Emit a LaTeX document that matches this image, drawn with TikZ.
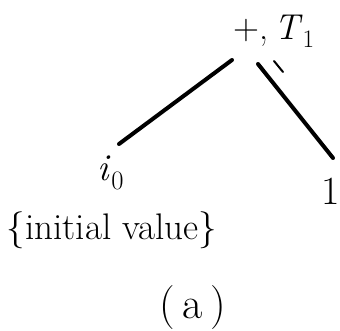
\documentclass[tikz,border=0pt]{standalone}
\usepackage{amsmath}
\usetikzlibrary{positioning, calc}

\begin{document}
\begin{tikzpicture}[
        x=1pt, y=-1pt,
        font=\fontsize{32}{38}\selectfont,
        treenode/.style={
            inner sep=0pt,
            align=center
        },
        notetext/.style={
            treenode,
            font=\fontsize{37}{44}\selectfont
        },
        edge/.style={
            line width=4pt,
            line cap=round
        },
        tickmark/.style={
            line width=2pt,
            line cap=round
        }
    ]

    \useasboundingbox (0,0) rectangle (340,331);

    \node[treenode, font=\fontsize{36}{42}\selectfont] (root) at (274,31) {+,\,\textit{T}\textsubscript{1}};
    \node[treenode, anchor=north, font=\fontsize{38}{44}\selectfont] (izero) at (111,156) {\textit{i}\textsubscript{0}};
    \node[treenode, anchor=north, font=\fontsize{40}{46}\selectfont] (one) at (331,178) {1};
    \node[notetext] (init) at (112,230) {\{initial value\}};
    \node[treenode, font=\fontsize{44}{50}\selectfont] (cap) at (193,308) {(\,a\,)};

    \draw[edge] ([shift={(-42,29)}]root.center) -- ([shift={(8,-12)}]izero.north);
    \draw[edge] ([shift={(-16,33)}]root.center) -- ([shift={(2,-20)}]one.north);
    \draw[tickmark] ([shift={(0,30)}]root.center) -- ++(9,11);

\end{tikzpicture}
\end{document}
